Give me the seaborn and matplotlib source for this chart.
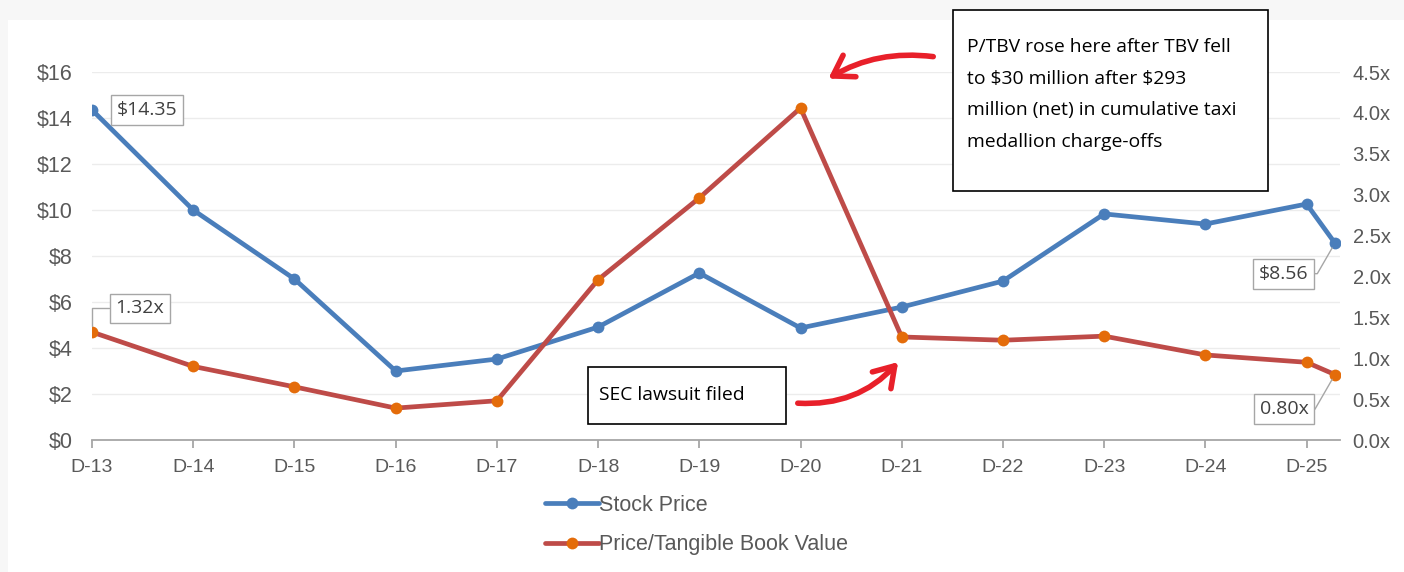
import matplotlib
matplotlib.use("Agg")
import matplotlib.pyplot as plt
import seaborn as sns
import pandas as pd
from matplotlib.patches import FancyArrowPatch, Rectangle

# ---- data ----
periods = ["D-13", "D-14", "D-15", "D-16", "D-17", "D-18", "D-19",
           "D-20", "D-21", "D-22", "D-23", "D-24", "D-25"]
# position index of each observation (last one is a later, partial period)
obs_pos = [0, 1, 2, 3, 4, 5, 6, 7, 8, 9, 10, 11, 12, 12.28]
stock_price = [14.35, 10.0, 7.0, 3.0, 3.52, 4.91, 7.26, 4.87, 5.78, 6.91,
               9.83, 9.39, 10.26, 8.56]
p_tbv = [1.32, 0.90, 0.65, 0.39, 0.48, 1.96, 2.96, 4.06, 1.26, 1.22,
         1.27, 1.04, 0.95, 0.80]
left_ticks = [0, 2, 4, 6, 8, 10, 12, 14, 16]
right_ticks = [0.0, 0.5, 1.0, 1.5, 2.0, 2.5, 3.0, 3.5, 4.0, 4.5]

df = pd.DataFrame({"pos": obs_pos, "price": stock_price, "ptbv": p_tbv})

BLUE = "#4A7EBB"
RED = "#BE4B48"
ORANGE = "#E46C0A"
GRAY = "#595959"

sns.set_theme(style="white")
plt.rcParams["font.family"] = ["Liberation Sans", "DejaVu Sans"]

fig = plt.figure(figsize=(14.04, 5.72), dpi=100, facecolor="#f7f7f7")
fig.patches.append(Rectangle((8 / 1404, 0), 1396 / 1404, 552 / 572,
                             transform=fig.transFigure, facecolor="white",
                             edgecolor="none", zorder=-10))

ax = fig.add_axes([92 / 1404, 132 / 572, 1248 / 1404, 368 / 572])
ax.set_facecolor("none")
ax2 = ax.twinx()

sns.lineplot(data=df, x="pos", y="price", ax=ax, color=BLUE, linewidth=3.4,
             marker="o", markersize=8.5, markeredgewidth=0,
             markerfacecolor=BLUE, label="Stock Price", legend=False, zorder=3)
sns.lineplot(data=df, x="pos", y="ptbv", ax=ax2, color=RED, linewidth=3.4,
             marker="o", markersize=8.5, markeredgewidth=0,
             markerfacecolor=ORANGE, label="Price/Tangible Book Value",
             legend=False, zorder=3)

ax.set_xlim(0, 12.33)
ax.set_ylim(0, 16)
ax2.set_ylim(0, 4.5)
ax.set_xticks(range(len(periods)))
ax.set_xticklabels(periods)
ax.set_yticks(left_ticks)
ax.set_yticklabels([f"${v}" for v in left_ticks])
ax2.set_yticks(right_ticks)
ax2.set_yticklabels([f"{v:.1f}x" for v in right_ticks])
ax.set_xlabel("")
ax.set_ylabel("")
ax2.set_ylabel("")

ax.grid(axis="y", color="#ececec", linewidth=1)
ax.set_axisbelow(True)
for a in (ax, ax2):
    for s in a.spines.values():
        s.set_visible(False)
ax.spines["bottom"].set_visible(True)
ax.spines["bottom"].set_color("#a6a6a6")
ax.spines["bottom"].set_linewidth(1.3)
ax.tick_params(axis="x", bottom=True, length=6, color="#a6a6a6", width=1.3,
               labelsize=14, labelcolor=GRAY, pad=8)
ax.tick_params(axis="y", left=False, length=0, labelsize=15.5,
               labelcolor=GRAY, pad=14)
ax2.tick_params(axis="y", right=False, length=0, labelsize=14.5,
                labelcolor=GRAY, pad=9)

# data labels
box = dict(boxstyle="square,pad=0.3", facecolor="white", edgecolor="#a6a6a6",
           linewidth=1)
lbl_font = dict(family=["Open Sans", "DejaVu Sans"], fontsize=14, color="#404040")
ax.annotate(f"${stock_price[0]:.2f}", xy=(obs_pos[0], stock_price[0]),
            xytext=(18, 0), textcoords="offset points", va="center",
            ha="left", bbox=box, **lbl_font, zorder=5)
ax2.annotate(f"{p_tbv[0]:.2f}x", xy=(obs_pos[0], p_tbv[0]),
             xytext=(17, 17), textcoords="offset points", va="center",
             ha="left", bbox=box, **lbl_font, zorder=5,
             arrowprops=dict(arrowstyle="-", color="#a6a6a6", lw=1,
                             connectionstyle="angle,angleA=0,angleB=90,rad=0",
                             shrinkA=0, shrinkB=4))
ax.annotate(f"${stock_price[-1]:.2f}", xy=(obs_pos[-1], stock_price[-1]),
            xytext=(-19, -22), textcoords="offset points", va="center",
            ha="right", bbox=box, **lbl_font, zorder=5,
            arrowprops=dict(arrowstyle="-", color="#a6a6a6", lw=1,
                            connectionstyle="angle,angleA=0,angleB=60,rad=0",
                            shrinkA=0, shrinkB=4))
ax2.annotate(f"{p_tbv[-1]:.2f}x", xy=(obs_pos[-1], p_tbv[-1]),
             xytext=(-19, -25), textcoords="offset points", va="center",
             ha="right", bbox=box, **lbl_font, zorder=5,
             arrowprops=dict(arrowstyle="-", color="#a6a6a6", lw=1,
                             connectionstyle="angle,angleA=0,angleB=60,rad=0",
                             shrinkA=0, shrinkB=4))

# callout boxes (figure coordinates, pixels)
def px(x, y):
    return (x / 1404, 1 - y / 572)

note_font = ["Open Sans", "DejaVu Sans"]
x0, y0 = px(953, 191)
fig.patches.append(Rectangle((x0, y0), 315 / 1404, 181 / 572,
                             transform=fig.transFigure, facecolor="white",
                             edgecolor="black", linewidth=1.2, zorder=6))
fig.text(*px(967, 38), "P/TBV rose here after TBV fell\nto \\$30 million after \\$293\n"
         "million (net) in cumulative taxi\nmedallion charge-offs",
         ha="left", va="top", fontsize=13.9, family=note_font, color="black",
         linespacing=1.98, zorder=7)

x0, y0 = px(588, 424)
fig.patches.append(Rectangle((x0, y0), 198 / 1404, 57 / 572,
                             transform=fig.transFigure, facecolor="white",
                             edgecolor="black", linewidth=1.2, zorder=6))
fig.text(*px(599, 395), "SEC lawsuit filed", ha="left", va="center",
         fontsize=13.9, family=note_font, color="black", zorder=7)

arrow_kw = dict(transform=fig.transFigure,
                arrowstyle="->,head_length=0.7,head_width=0.45",
                color="#E8202A", linewidth=4, mutation_scale=20,
                capstyle="round", joinstyle="round", zorder=8)
fig.patches.append(FancyArrowPatch(px(936, 57), px(826, 80),
                                   connectionstyle="arc3,rad=0.18", **arrow_kw))
fig.patches.append(FancyArrowPatch(px(795, 403), px(900, 360),
                                   connectionstyle="arc3,rad=0.25", **arrow_kw))

# legend
h1, l1 = ax.get_legend_handles_labels()
h2, l2 = ax2.get_legend_handles_labels()
fig.legend(h1 + h2, l1 + l2, loc="center left",
           bbox_to_anchor=(526 / 1404, 1 - 525 / 572), frameon=False,
           fontsize=15.5, labelcolor=GRAY, handlelength=2.5, handletextpad=0.0,
           labelspacing=0.85)

fig.savefig("out.png", dpi=100, facecolor=fig.get_facecolor())
